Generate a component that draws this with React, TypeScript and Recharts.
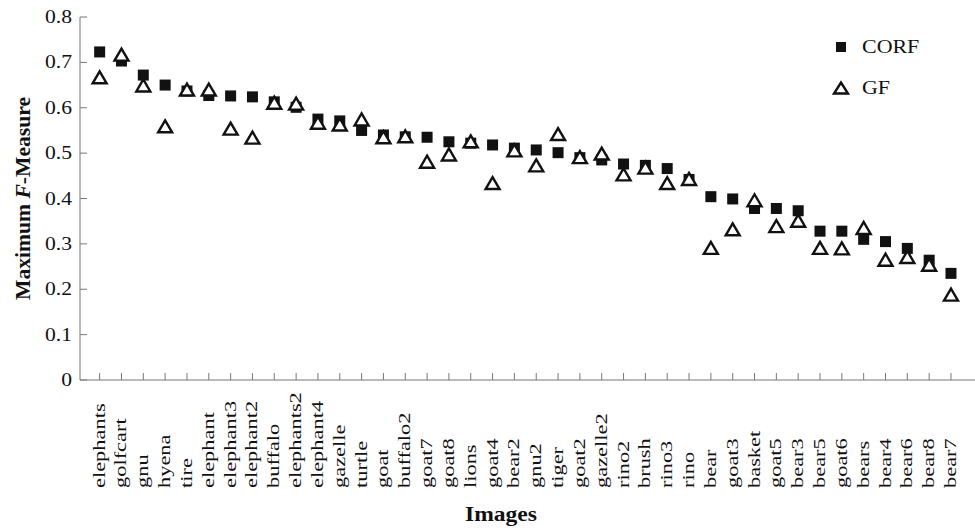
import React from 'react';
import { ScatterChart, Scatter, XAxis, YAxis, Label } from 'recharts';

// image names along the x axis, in plot order
const IMAGES = [
  'elephants', 'golfcart', 'gnu', 'hyena', 'tire', 'elephant', 'elephant3', 'elephant2',
  'buffalo', 'elephants2', 'elephant4', 'gazelle', 'turtle', 'goat', 'buffalo2', 'goat7',
  'goat8', 'lions', 'goat4', 'bear2', 'gnu2', 'tiger', 'goat2', 'gazelle2', 'rino2',
  'brush', 'rino3', 'rino', 'bear', 'goat3', 'basket', 'goat5', 'bear3', 'bear5', 'goat6',
  'bears', 'bear4', 'bear6', 'bear8', 'bear7',
];

// maximum F-measure
const CORF = [
  0.723, 0.703, 0.672, 0.65, 0.637, 0.627, 0.626, 0.624, 0.613, 0.601, 0.575, 0.571,
  0.55, 0.54, 0.536, 0.535, 0.525, 0.522, 0.518, 0.511, 0.507, 0.501, 0.49, 0.485,
  0.476, 0.473, 0.466, 0.442, 0.404, 0.399, 0.378, 0.378, 0.373, 0.328, 0.328, 0.31,
  0.305, 0.29, 0.264, 0.235,
];
const GF = [
  0.666, 0.716, 0.648, 0.558, 0.639, 0.639, 0.553, 0.533, 0.61, 0.608, 0.566, 0.562,
  0.573, 0.534, 0.536, 0.48, 0.496, 0.525, 0.433, 0.505, 0.472, 0.541, 0.49, 0.498,
  0.452, 0.467, 0.433, 0.442, 0.29, 0.331, 0.395, 0.338, 0.35, 0.29, 0.289, 0.334,
  0.264, 0.27, 0.253, 0.187,
];

const Y_TICKS = [0, 0.1, 0.2, 0.3, 0.4, 0.5, 0.6, 0.7, 0.8];

const FONT = '"Liberation Serif", "Times New Roman", serif';
const AXIS_COLOR = '#777';
const INK = '#111';

const corfData = CORF.map((v, i) => ({ idx: i + 1, v }));
const gfData = GF.map((v, i) => ({ idx: i + 1, v }));

const Square = (props: any) => {
  const { cx, cy } = props;
  return <rect x={cx - 5.5} y={cy - 5.5} width={11} height={11} fill={INK} />;
};

const Triangle = (props: any) => {
  const { cx, cy } = props;
  return (
    <polygon
      points={`${cx - 7},${cy + 5.5} ${cx + 7},${cy + 5.5} ${cx},${cy - 6.5}`}
      fill="#fff"
      stroke={INK}
      strokeWidth={2.4}
    />
  );
};

// x ticks: short tick inside the plot, rotated name below, bottom aligned
const XTick = (props: any) => {
  const { x, y, payload } = props;
  const name = IMAGES[payload.value - 1] ?? '';
  return (
    <g>
      <line x1={x} x2={x} y1={y} y2={y - 7} stroke={AXIS_COLOR} />
      <text
        transform={`translate(${x + 5},488) rotate(-90) scale(1.18,0.9)`}
        textAnchor="start"
        fontFamily={FONT}
        fontSize={19}
        fill={INK}
      >
        {name}
      </text>
    </g>
  );
};

const YTick = (props: any) => {
  const { x, y, payload } = props;
  const v = payload.value as number;
  return (
    <g>
      <line x1={x} x2={x + 7} y1={y} y2={y} stroke={AXIS_COLOR} />
      <text
        transform={`translate(${x - 8},${y + 6}) scale(1.2,1)`}
        textAnchor="end"
        fontFamily={FONT}
        fontSize={18}
        fill={INK}
      >
        {v === 0 ? '0' : v.toFixed(1)}
      </text>
    </g>
  );
};

const LegendOverlay = () => (
  <svg width={975} height={528} style={{ position: 'absolute', left: 0, top: 0, pointerEvents: 'none' }}>
    <rect x={836} y={42} width={10} height={10} fill={INK} />
    <text transform="translate(862,53) scale(1.22,1)" fontFamily={FONT} fontSize={18} fill={INK}>
      CORF
    </text>
    <polygon points="834,93.5 848,93.5 841,82.5" fill="#fff" stroke={INK} strokeWidth={2.4} />
    <text transform="translate(862,94) scale(1.22,1)" fontFamily={FONT} fontSize={18} fill={INK}>
      GF
    </text>
  </svg>
);

export default function App() {
  return (
    <div style={{ position: 'absolute', left: 0, top: 0, width: 975, height: 528, background: '#fff' }}>
      <ScatterChart width={975} height={528} margin={{ top: 17, right: 0, bottom: 0, left: 0 }}>
        <XAxis
          type="number"
          dataKey="idx"
          domain={[0.1, 41.1]}
          ticks={IMAGES.map((_, i) => i + 1)}
          interval={0}
          height={148}
          tickLine={false}
          tickSize={0}
          tickMargin={0}
          axisLine={{ stroke: AXIS_COLOR }}
          tick={<XTick />}
        >
          <Label
            content={() => (
              <text
                x={465}
                y={521}
                textLength={72}
                lengthAdjust="spacingAndGlyphs"
                fontFamily={FONT}
                fontSize={20}
                fontWeight="bold"
                fill={INK}
              >
                Images
              </text>
            )}
          />
        </XAxis>
        <YAxis
          type="number"
          dataKey="v"
          domain={[0, 0.8]}
          ticks={Y_TICKS}
          width={80}
          tickLine={false}
          tickSize={0}
          tickMargin={0}
          axisLine={{ stroke: AXIS_COLOR }}
          tick={<YTick />}
        >
          <Label
            content={() => (
              <text
                transform="translate(30,300) rotate(-90)"
                textLength={203}
                lengthAdjust="spacingAndGlyphs"
                fontFamily={FONT}
                fontSize={20}
                fontWeight="bold"
                fill={INK}
              >
                Maximum <tspan fontStyle="italic">F</tspan>-Measure
              </text>
            )}
          />
        </YAxis>
        <Scatter name="CORF" data={corfData} shape={<Square />} isAnimationActive={false} />
        <Scatter name="GF" data={gfData} shape={<Triangle />} isAnimationActive={false} />
      </ScatterChart>
      <LegendOverlay />
    </div>
  );
}
